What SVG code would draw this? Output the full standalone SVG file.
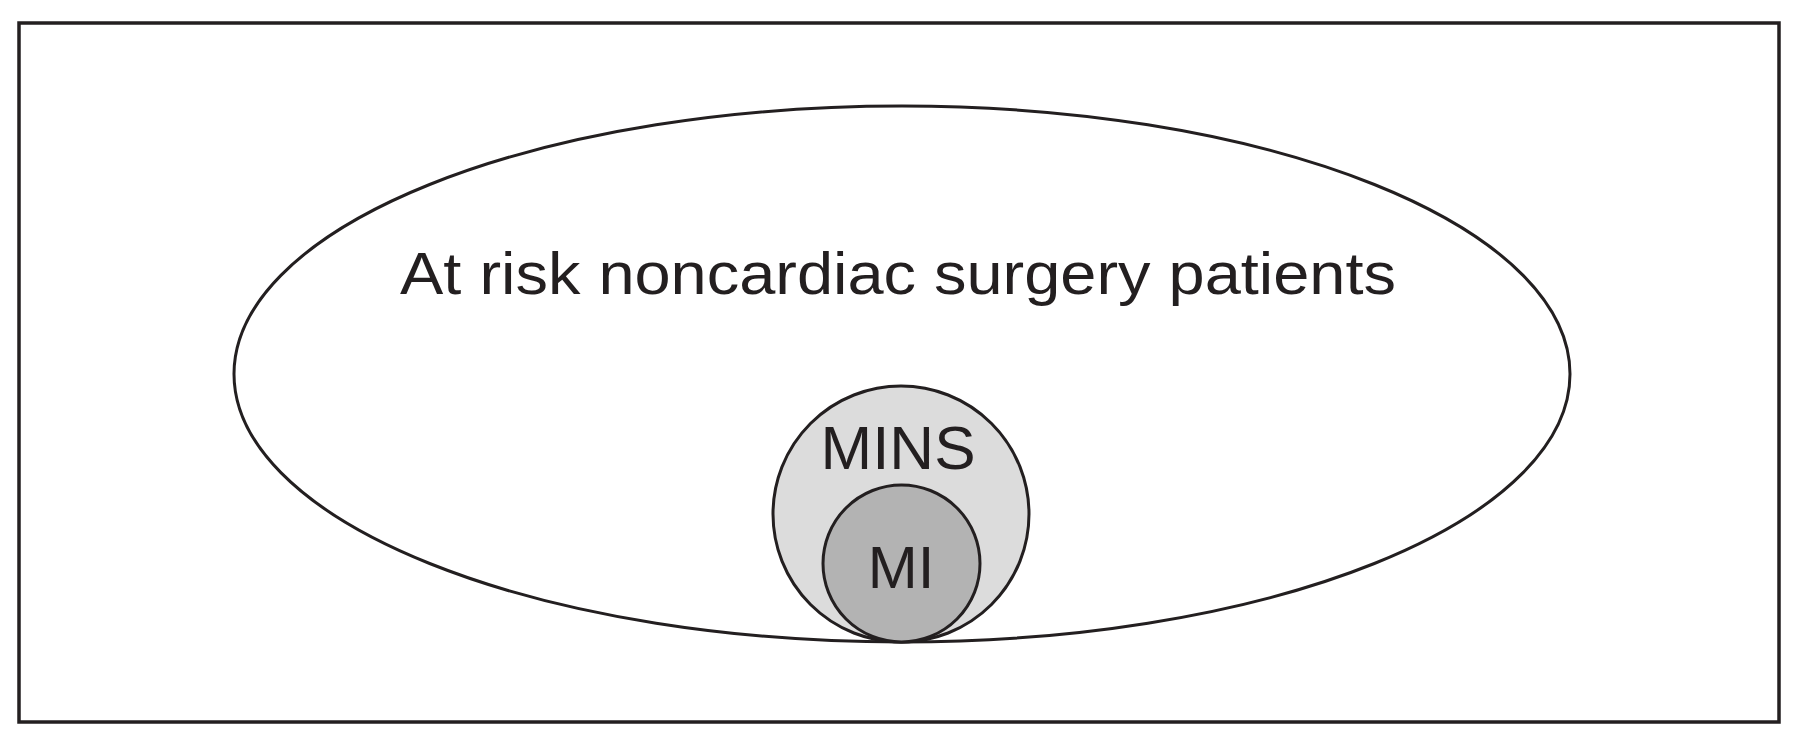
<svg xmlns="http://www.w3.org/2000/svg" width="1797" height="739" viewBox="0 0 1797 739">
<style>
.l{stroke:#231f20;stroke-width:3}
.t{font-family:"Liberation Sans",Arial,sans-serif;fill:#231f20;text-anchor:middle}
</style>
<rect width="1797" height="739" fill="#fff"/>
<rect x="19" y="23" width="1760" height="699" fill="none" stroke="#231f20" stroke-width="3.5"/>
<g id="population">
<ellipse cx="902" cy="374" rx="668" ry="268" fill="#fff" class="l"/>
<text class="t" x="898" y="294" font-size="59" textLength="996" lengthAdjust="spacingAndGlyphs">At risk noncardiac surgery patients</text>
</g>
<g id="mins">
<circle cx="901" cy="514" r="128" fill="#dcdcdc" class="l"/>
<text class="t" x="898" y="469" font-size="62">MINS</text>
</g>
<g id="mi">
<circle cx="901.5" cy="563.5" r="78.5" fill="#b3b3b3" class="l"/>
<text class="t" x="901" y="588" font-size="60">MI</text>
</g>
<g id="connectors"/>
</svg>
